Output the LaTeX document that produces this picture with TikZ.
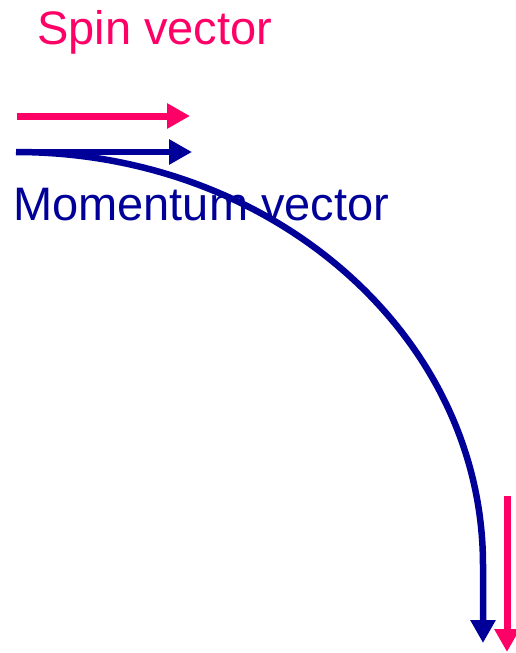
\documentclass[tikz,border=0pt]{standalone}
\usepackage{fontspec}
\setmainfont{Liberation Sans}
\usetikzlibrary{arrows.meta}
\definecolor{spinpink}{HTML}{FF0066}
\definecolor{momblue}{HTML}{000099}
\tikzset{
    spinarrow/.style={spinpink, line width=7pt, -{Triangle[length=23pt,width=24pt]}},
    momarrow/.style={momblue, line width=6.5pt, -{Triangle[length=23pt,width=24pt]}},
    label/.style={inner sep=0pt, anchor=base west, font=\fontsize{47}{50}\selectfont}
}
\begin{document}
\begin{tikzpicture}[x=1pt,y=-1pt]
    \useasboundingbox (0,0) rectangle (516,653);
    \node[label, text=spinpink] (spin) at (37,44) {Spin vector};
    \node[label, text=momblue] (mom) at (13,220) {Momentum vector};
    % before
    \coordinate (s0) at (17,116);
    \coordinate (s1) at (190,116);
    \coordinate (m0) at (16,152);
    \coordinate (m1) at (192,152);
    \draw[spinarrow] (s0) -- (s1);
    \draw[momarrow] (m0) -- (m1);
    % after
    \coordinate (c1) at (274,152);
    \coordinate (c2) at (483,337);
    \coordinate (m2) at (483,565);
    \coordinate (m3) at (483,643);
    \draw[momarrow] (m0) .. controls (c1) and (c2) .. (m2) -- (m3);
    \coordinate (s2) at (507,496);
    \coordinate (s3) at (507,652);
    \draw[spinarrow] (s2) -- (s3);
\end{tikzpicture}
\end{document}
